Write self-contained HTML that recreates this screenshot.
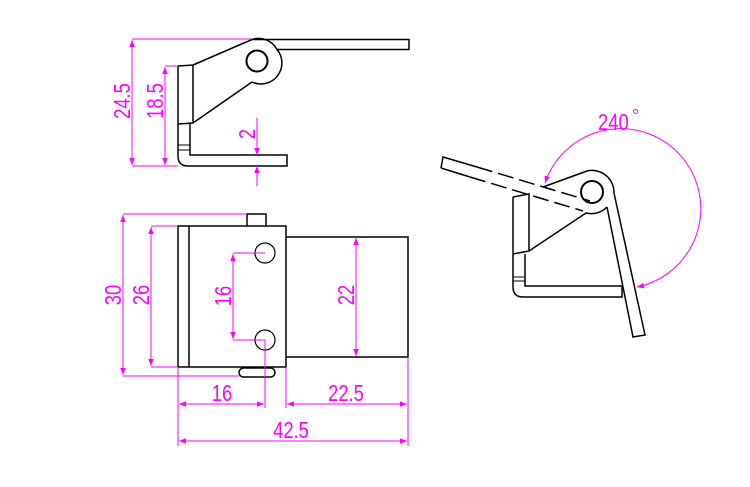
<!DOCTYPE html>
<html><head><meta charset="utf-8"><style>
html,body{margin:0;padding:0;background:#fff;}
svg{display:block;}
text{font-family:"Liberation Sans",sans-serif;fill:#ff00ff;font-size:23px;}
</style></head><body>
<svg width="750" height="487" viewBox="0 0 750 487" xmlns="http://www.w3.org/2000/svg">
<defs>
<marker id="a" viewBox="0 0 10 10" refX="10" refY="5" markerWidth="10" markerHeight="7" orient="auto-start-reverse" markerUnits="userSpaceOnUse"><path d="M0,1 L10,5 L0,9 z" fill="#ff00ff"/></marker>
</defs>
<g fill="none" stroke="#000" stroke-width="1.5">
<path d="M252,39.5 L409,39.5 L409,49.5 L277,49.5"/>
<path d="M252,39.5 A21,21 0 0 1 277,49.5 M277,49.5 A21,21 0 0 1 252,82"/>
<circle cx="257" cy="61" r="10.5" stroke-width="2"/>
<path d="M193,65 L252,39.5 M193,123 L252,82"/>
<path d="M178,66 L193,65 L193,123 L178,124"/>
<path d="M178,66 L178,156 Q178,166 188,166 L287,166 L287,155 L190,155 L190,124"/>
<path d="M178,145 L190,145 M178,150 L190,150" stroke-width="1"/>
<rect x="178" y="226" width="108" height="141"/>
<line x1="189" y1="226" x2="189" y2="367"/>
<path d="M247,226 L247,214 L266,214 L266,226"/>
<rect x="239" y="368" width="36" height="9" rx="4.5"/>
<path d="M286,237 L408,237 L408,357 L286,357"/>
<circle cx="265" cy="253" r="10" stroke-width="1.2"/>
<circle cx="265" cy="340" r="10" stroke-width="1.2"/>
<circle cx="592" cy="192" r="11" stroke-width="2"/>
<path d="M543,187 L587,171 A22,22 0 0 1 614,193 M607,207 A22,22 0 0 1 586,213 L529,251"/>
<path d="M513,197 L529,194 L529,251 L513,254"/>
<path d="M513,197 L513,287 Q513,297 523,297 L622,297 L622,286 L525,286 L525,254"/>
<path d="M513,277 L525,277 M513,281 L525,281" stroke-width="1"/>
<path d="M607,207 L633,337 L645,335 L614,193"/>
<path d="M441,168 L443,157 L477,167 M441,168 L470,177"/>
<path d="M477,167 L590,201 M470,177 L583,211" stroke-dasharray="16,6"/>
</g>
<g stroke="#ff00ff" stroke-width="1" fill="none">
<path d="M132,39 L252,39 M132,166 L178,166 M165,66 L178,66"/>
<line x1="132" y1="40" x2="132" y2="165" marker-start="url(#a)" marker-end="url(#a)"/>
<line x1="165" y1="67" x2="165" y2="165" marker-start="url(#a)" marker-end="url(#a)"/>
<line x1="257" y1="118" x2="257" y2="155" marker-end="url(#a)"/>
<line x1="257" y1="186" x2="257" y2="166" marker-end="url(#a)"/>
<path d="M123,214 L247,214 M123,376 L239,376 M151,226 L178,226 M151,367 L178,367"/>
<line x1="123" y1="215" x2="123" y2="375" marker-start="url(#a)" marker-end="url(#a)"/>
<line x1="151" y1="227" x2="151" y2="366" marker-start="url(#a)" marker-end="url(#a)"/>
<path d="M233,253 L265,253 M233,340 L265,340 M265,340 L265,408"/>
<line x1="233" y1="254" x2="233" y2="339" marker-start="url(#a)" marker-end="url(#a)"/>
<line x1="356" y1="238" x2="356" y2="356" marker-start="url(#a)" marker-end="url(#a)"/>
<path d="M178,367 L178,446 M286,367 L286,408 M408,357 L408,446"/>
<line x1="179" y1="404" x2="264" y2="404" marker-start="url(#a)" marker-end="url(#a)"/>
<line x1="287" y1="404" x2="407" y2="404" marker-start="url(#a)" marker-end="url(#a)"/>
<line x1="179" y1="441" x2="407" y2="441" marker-start="url(#a)" marker-end="url(#a)"/>
<path d="M545,183 A80,80 0 1 1 637,287" marker-start="url(#a)" marker-end="url(#a)"/>
</g>
<g>
<text transform="translate(130,101) rotate(-90) scale(0.8,1)" text-anchor="middle">24.5</text>
<text transform="translate(163,101) rotate(-90) scale(0.8,1)" text-anchor="middle">18.5</text>
<text transform="translate(255,134) rotate(-90) scale(0.8,1)" text-anchor="middle">2</text>
<text transform="translate(121,295) rotate(-90) scale(0.8,1)" text-anchor="middle">30</text>
<text transform="translate(149,295) rotate(-90) scale(0.8,1)" text-anchor="middle">26</text>
<text transform="translate(231,296) rotate(-90) scale(0.8,1)" text-anchor="middle">16</text>
<text transform="translate(354,295) rotate(-90) scale(0.8,1)" text-anchor="middle">22</text>
<text transform="translate(222,401) scale(0.8,1)" text-anchor="middle">16</text>
<text transform="translate(346,401) scale(0.8,1)" text-anchor="middle">22.5</text>
<text transform="translate(291,438) scale(0.8,1)" text-anchor="middle">42.5</text>
<text transform="translate(598,130) scale(0.8,1)">240</text>
<text x="632" y="122" style="font-size:18px">°</text>
</g>
</svg>
</body></html>
